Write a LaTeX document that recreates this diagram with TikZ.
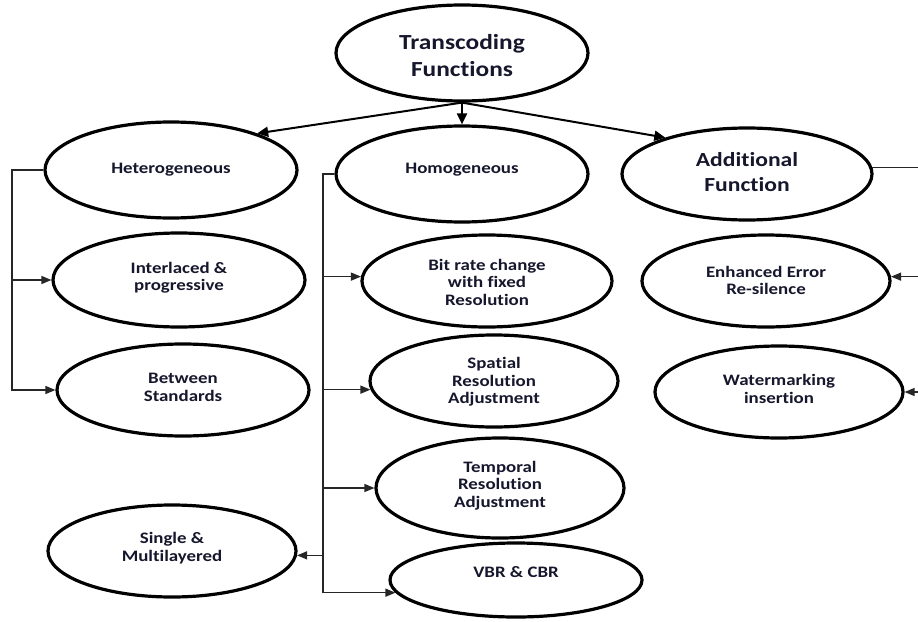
\documentclass[tikz,border=0pt]{standalone}
\usepackage{fontspec}
\setmainfont{Carlito}[FakeStretch=1.18, Ligatures=NoCommon]
\usetikzlibrary{shapes.geometric,arrows.meta}
\definecolor{txtc}{RGB}{22,22,45}
\tikzset{
  oval/.style={draw=black, line width=3.2pt, ellipse, inner sep=0pt, fill=white},
  txt/.style={font=\fontsize{16}{17.5}\selectfont\bfseries, align=center, text=txtc, inner sep=0pt},
  bigtxt/.style={font=\fontsize{21.5}{27}\selectfont\bfseries, align=center, text=txtc, inner sep=0pt},
  conn/.style={draw=black!85, line width=1.3pt},
  arr/.style={conn, -{Triangle[length=10pt,width=8pt]}},
  toparr/.style={draw=black, line width=2pt, -{Triangle[length=11pt,width=10pt]}}
}
\begin{document}
\begin{tikzpicture}[x=1pt,y=-1pt]
\useasboundingbox (0,0) rectangle (918,621);
\fill[white] (0,0) rectangle (918,621);

% ellipses
\node[oval, minimum width=252pt, minimum height=96pt] (tc) at (462,53) {};
\node[oval, minimum width=252pt, minimum height=96pt] (het) at (171,170) {};
\node[oval, minimum width=252pt, minimum height=94pt] (inter) at (179,280) {};
\node[oval, minimum width=252pt, minimum height=92pt] (btw) at (183,390) {};
\node[oval, minimum width=252pt, minimum height=96pt] (hom) at (462,174) {};
\node[oval, minimum width=250pt, minimum height=92pt] (bit) at (487,281) {};
\node[oval, minimum width=248pt, minimum height=92pt] (spat) at (494,381) {};
\node[oval, minimum width=248pt, minimum height=100pt] (temp) at (500,488) {};
\node[oval, minimum width=252pt, minimum height=74pt] (vbr) at (516,580) {};
\node[oval, minimum width=248pt, minimum height=92pt] (single) at (172,551) {};
\node[oval, minimum width=250pt, minimum height=92pt] (add) at (747,174) {};
\node[oval, minimum width=248pt, minimum height=92pt] (enh) at (766,281) {};
\node[oval, minimum width=248pt, minimum height=92pt] (wat) at (779,392) {};

% texts
\node[bigtxt] (tc-t) at (462,56) {Transcoding\\Functions};
\node[txt] (het-t) at (171,170) {Heterogeneous};
\node[txt] (inter-t) at (179,277.5) {Interlaced \&\\progressive};
\node[txt] (btw-t) at (183,387.5) {Between\\Standards};
\node[txt] (hom-t) at (462,170) {Homogeneous};
\node[txt] (bit-t) at (487,282) {Bit rate change\\with fixed\\Resolution};
\node[txt] (spat-t) at (494,382) {Spatial\\Resolution\\Adjustment};
\node[txt] (temp-t) at (500,485.5) {Temporal\\Resolution\\Adjustment};
\node[txt] (vbr-t) at (516,572) {VBR \& CBR};
\node[txt] (single-t) at (172,548) {Single \&\\Multilayered};
\node[font=\fontsize{20}{25}\selectfont\bfseries, align=center, text=txtc, inner sep=0pt] (add-t) at (747,172.5) {Additional\\Function};
\node[txt] (enh-t) at (766,280.5) {Enhanced Error\\Re-silence};
\node[txt] (wat-t) at (779,389) {Watermarking\\insertion};

% top arrows
\draw[toparr] (tc.south) -- (het.23);
\draw[toparr] (tc.south) -- (hom.north);
\draw[toparr] (tc.south) -- (add.156);

% left bracket
\coordinate (lb) at (12,168);
\draw[arr] (het.west) -- (lb |- het.west) |- (btw.west);
\draw[arr] (lb |- inter.west) -- (inter.west);

% middle bracket
\coordinate (mb) at (323,173);
\draw[arr] (hom.west) -- (mb |- hom.west) |- (vbr.186);
\draw[arr] (mb |- bit.178) -- (bit.178);
\draw[arr] (mb |- spat.184) -- (spat.184);
\draw[arr] (mb |- temp.west) -- (temp.west);
\draw[arr] (mb |- single.-2) -- (single.-2);

% right bracket
\coordinate (rb) at (921,168);
\draw[conn] (add.3) -- (rb |- add.3) -- (rb |- wat.east);
\draw[arr] (rb |- enh.2) -- (enh.2);
\draw[arr] (rb |- wat.east) -- (wat.east);
\end{tikzpicture}
\end{document}
